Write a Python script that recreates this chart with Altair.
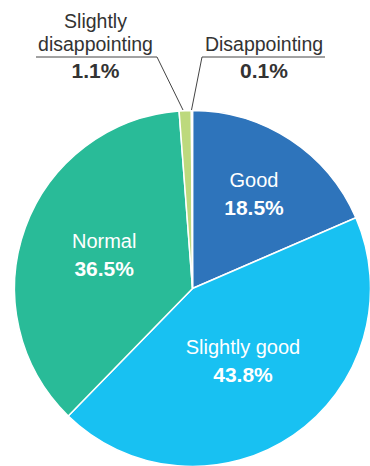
import altair as alt
import pandas as pd

categories = ["Good", "Slightly good", "Normal", "Slightly disappointing", "Disappointing"]
values = [18.5, 43.8, 36.5, 1.1, 0.1]
colors = ["#2e74bb", "#18c1f2", "#29bb98", "#bdd97d", "#e9834a"]
inner_names = ["Good", "Slightly good", "Normal", "", ""]
inner_pcts = ["18.5%", "43.8%", "36.5%", "", ""]
label_radius = [112, 89, 94, 0, 0]

df = pd.DataFrame({
    "category": categories,
    "value": values,
    "order": list(range(len(categories))),
    "name": inner_names,
    "pct": inner_pcts,
    "r": label_radius,
})

# outer annotation labels
out_text = ["Slightly", "disappointing", "1.1%", "Disappointing", "0.1%"]
out_x = [95.5, 95.5, 95.5, 264, 264]
out_y = [28, 51, 78, 51, 78]
out_bold = [False, False, True, False, True]
ann = pd.DataFrame({"text": out_text, "x": out_x, "y": out_y, "bold": out_bold})

lead_x = [36, 157, 202, 202]
lead_y = [57, 57, 57, 57]
lead_x2 = [157, 183, 325, 191.5]
lead_y2 = [57, 110, 57, 110]
leaders = pd.DataFrame({"x": lead_x, "y": lead_y, "x2": lead_x2, "y2": lead_y2})

CX, CY, R = 192.5, 288.5, 178
FONT = "Liberation Sans"

arcs = alt.Chart(df).mark_arc(outerRadius=R, stroke="white", strokeWidth=1.5).encode(
    theta=alt.Theta("value:Q", stack=True),
    order=alt.Order("order:Q"),
    x=alt.value(CX),
    y=alt.value(CY),
    color=alt.Color("category:N", scale=alt.Scale(domain=categories, range=colors), legend=None),
)

# label positions computed from the slice mid-angles
lab = alt.Chart(df).transform_window(
    cum="sum(value)", sort=[alt.SortField("order")], frame=[None, 0]
).transform_joinaggregate(
    total="sum(value)"
).transform_calculate(
    mid="(datum.cum - datum.value / 2) / datum.total * 2 * PI",
).transform_calculate(
    lx=f"{CX} + datum.r * sin(datum.mid)",
    ly=f"{CY} - datum.r * cos(datum.mid)",
).transform_filter("datum.name != ''")

names = lab.mark_text(font=FONT, fontSize=20, color="white", baseline="middle", dy=-14).encode(
    x=alt.X("lx:Q", scale=None), y=alt.Y("ly:Q", scale=None), text="name:N"
)
pcts = lab.mark_text(font=FONT, fontSize=21, fontWeight="bold", color="white", baseline="middle", dy=14).encode(
    x=alt.X("lx:Q", scale=None), y=alt.Y("ly:Q", scale=None), text="pct:N"
)

lines = alt.Chart(leaders).mark_rule(color="#444444", strokeWidth=1).encode(
    x=alt.X("x:Q", scale=None), y=alt.Y("y:Q", scale=None),
    x2="x2:Q", y2="y2:Q",
)

ann_normal = alt.Chart(ann).transform_filter("!datum.bold").mark_text(
    font=FONT, fontSize=19.5, color="#333333", baseline="alphabetic", align="center"
).encode(x=alt.X("x:Q", scale=None), y=alt.Y("y:Q", scale=None), text="text:N")

ann_bold = alt.Chart(ann).transform_filter("datum.bold").mark_text(
    font=FONT, fontSize=21, fontWeight="bold", color="#333333", baseline="alphabetic", align="center"
).encode(x=alt.X("x:Q", scale=None), y=alt.Y("y:Q", scale=None), text="text:N")

chart = alt.layer(arcs, names, pcts, lines, ann_normal, ann_bold).properties(
    width=370, height=466, padding=0, autosize=alt.AutoSizeParams(type="none"),
    background="white",
).configure_view(stroke=None)

chart.save("out.html", embed_options={"renderer": "svg", "actions": False})
